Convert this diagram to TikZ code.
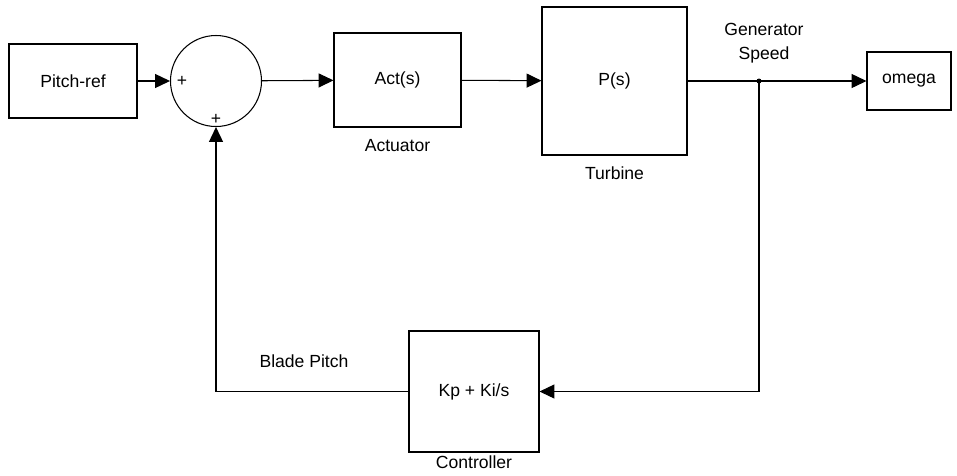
\documentclass[tikz,border=0pt]{standalone}
\usepackage{fontspec}
\setmainfont{Liberation Sans}
\usetikzlibrary{arrows.meta,positioning,calc}

\begin{document}
\begin{tikzpicture}[x=0.2mm,y=-0.2mm,>={Triangle[length=8.5pt,width=8pt]},line width=0.6pt,
 blk/.style={draw,inner sep=0pt,font=\fontsize{10}{12}\selectfont},
 lbl/.style={font=\fontsize{10}{14}\selectfont,align=center}]
 \useasboundingbox (0,0) rectangle (957,475);
 \node[blk,minimum width=25.6mm,minimum height=14.8mm] (ref) at (73,81) {Pitch-ref};
 \node[circle,draw,minimum size=18.2mm,inner sep=0pt] (sum) at (216,81) {};
 \node[blk,minimum width=25.4mm,minimum height=18.8mm] (act) at (397.5,80) {Act(s)};
 \node[blk,minimum width=29mm,minimum height=29.6mm] (plant) at (614.5,81) {P(s)};
 \node[blk,minimum width=16.8mm,minimum height=11.6mm] (out) at (909,81) {omega};
 \node[blk,minimum width=26mm,minimum height=24.2mm] (ctrl) at (474,391.5) {Kp + Ki/s};
 \node[lbl,below=1mm of act] (actlbl) {Actuator};
 \node[lbl,below=1mm of plant] (plantlbl) {Turbine};
 \node[lbl,below=0.2mm of ctrl,inner sep=1pt] (ctrllbl) {Controller};
 \node[lbl] (speedlbl) at (764,43) {Generator\\Speed};
 \node[lbl] (pitchlbl) at (304,361) {Blade Pitch};
 \node[font=\fontsize{10}{10}\selectfont,inner sep=0pt] (plusa) at (182,81) {+};
 \node[font=\fontsize{10}{10}\selectfont,inner sep=0pt] (plusb) at (216,119) {+};
 \coordinate (jn) at (759,81);
 \draw[->] (ref) -- (sum);
 \draw[->] (sum) -- (act);
 \draw[->] (act) -- (plant);
 \draw[->] (plant) -- (out);
 \fill (jn) circle (2.5);
 \draw[->] (jn) |- (ctrl);
 \draw[->] (ctrl) -| (sum);
\end{tikzpicture}
\end{document}
